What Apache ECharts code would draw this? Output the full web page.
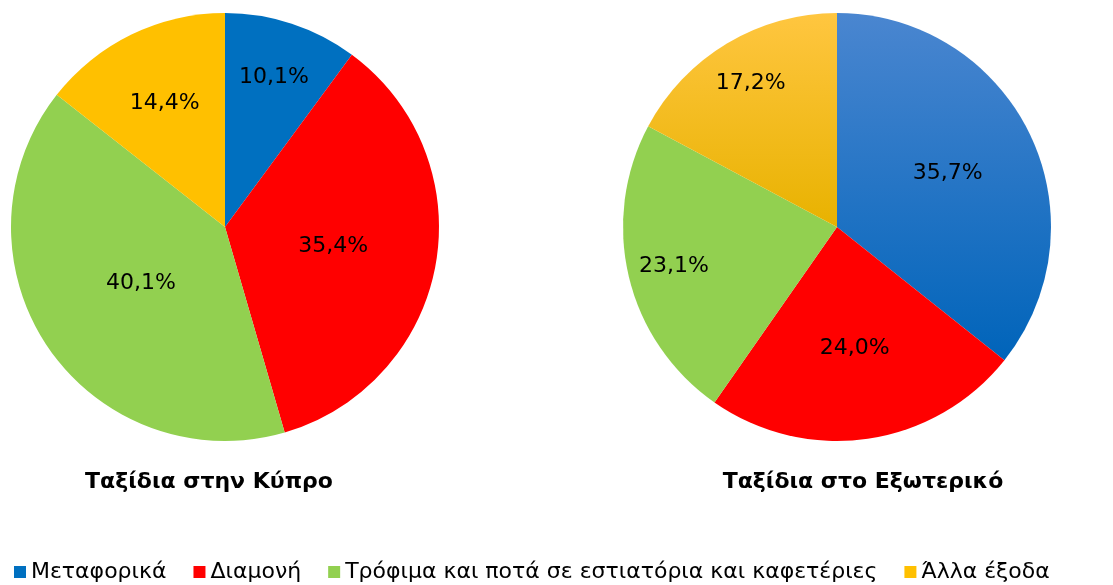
<!DOCTYPE html>
<html>
<head>
<meta charset="utf-8">
<script src="https://cdn.jsdelivr.net/npm/echarts@6/dist/echarts.min.js"></script>
<style>
  html, body { margin: 0; padding: 0; background: #fff; }
  #main { width: 1113px; height: 585px; }
</style>
</head>
<body>
<div id="main"></div>
<script>
// categories
var categories = ['Μεταφορικά', 'Διαμονή', 'Τρόφιμα και ποτά σε εστιατόρια και καφετέριες', 'Άλλα έξοδα']
var titles = ['Ταξίδια στην Κύπρο', 'Ταξίδια στο Εξωτερικό']
// values (%)
var cyprusValues = [10.1, 35.4, 40.1, 14.4]
var abroadValues = [35.7, 24.0, 23.1, 17.2]

var colors = ['#0070c0', '#ff0000', '#92d050', '#ffc000']
var font = 'DejaVu Sans, Verdana, sans-serif'
var R = 214

// how far out (fraction of radius) each slice label sits, like Excel's best fit
var cyprusLabelPos = [0.72, 0.5, 0.46, 0.63]
var abroadLabelPos = [0.56, 0.56, 0.77, 0.77]

function grad(top, bottom) {
  return new echarts.graphic.LinearGradient(0, 0, 0, 1, [
    { offset: 0, color: top },
    { offset: 1, color: bottom }
  ])
}
// right pie has shaded blue and yellow slices
var abroadColors = [grad('#4a86d0', '#0064ba'), '#ff0000', '#92d050', grad('#ffc640', '#e8b200')]

function makeData(values, cols, labelPos) {
  var total = values.reduce(function (a, b) { return a + b }, 0)
  var acc = 0
  return values.map(function (v, i) {
    var mid = (acc + v / 2) / total * Math.PI * 2
    acc += v
    var shift = (labelPos[i] - 0.5) * R
    return {
      name: categories[i],
      value: v,
      itemStyle: { color: cols[i] },
      label: { offset: [Math.sin(mid) * shift, -Math.cos(mid) * shift] }
    }
  })
}

function pie(center, values, cols, labelPos) {
  return {
    type: 'pie',
    center: center,
    radius: [0, R],
    startAngle: 90,
    clockwise: true,
    animation: false,
    silent: true,
    label: {
      show: true,
      position: 'inside',
      color: '#000',
      fontFamily: font,
      fontSize: 22,
      formatter: function (p) { return p.value.toFixed(1).replace('.', ',') + '%' }
    },
    labelLine: { show: false },
    itemStyle: { borderWidth: 0 },
    data: makeData(values, cols, labelPos)
  }
}

var chart = echarts.init(document.getElementById('main'), null, { renderer: 'canvas' })
var option = {
  backgroundColor: '#ffffff',
  color: colors,
  title: [
    { text: titles[0], left: 204, top: 466, textAlign: 'center',
      textStyle: { fontFamily: font, fontSize: 22, fontWeight: 'bold', color: '#000' } },
    { text: titles[1], left: 858, top: 466, textAlign: 'center',
      textStyle: { fontFamily: font, fontSize: 22, fontWeight: 'bold', color: '#000' } }
  ],
  legend: {
    top: 561,
    left: 14,
    padding: 0,
    icon: 'rect',
    itemWidth: 12,
    itemHeight: 12,
    itemGap: 27,
    textStyle: { fontFamily: font, fontSize: 22, color: '#000', padding: [0, 0, 0, 0] },
    data: categories.map(function (c, i) { return { name: c, itemStyle: { color: colors[i] } } })
  },
  series: [
    pie([225, 227], cyprusValues, colors, cyprusLabelPos),
    pie([837, 227], abroadValues, abroadColors, abroadLabelPos)
  ]
}
chart.setOption(option)
</script>
</body>
</html>
